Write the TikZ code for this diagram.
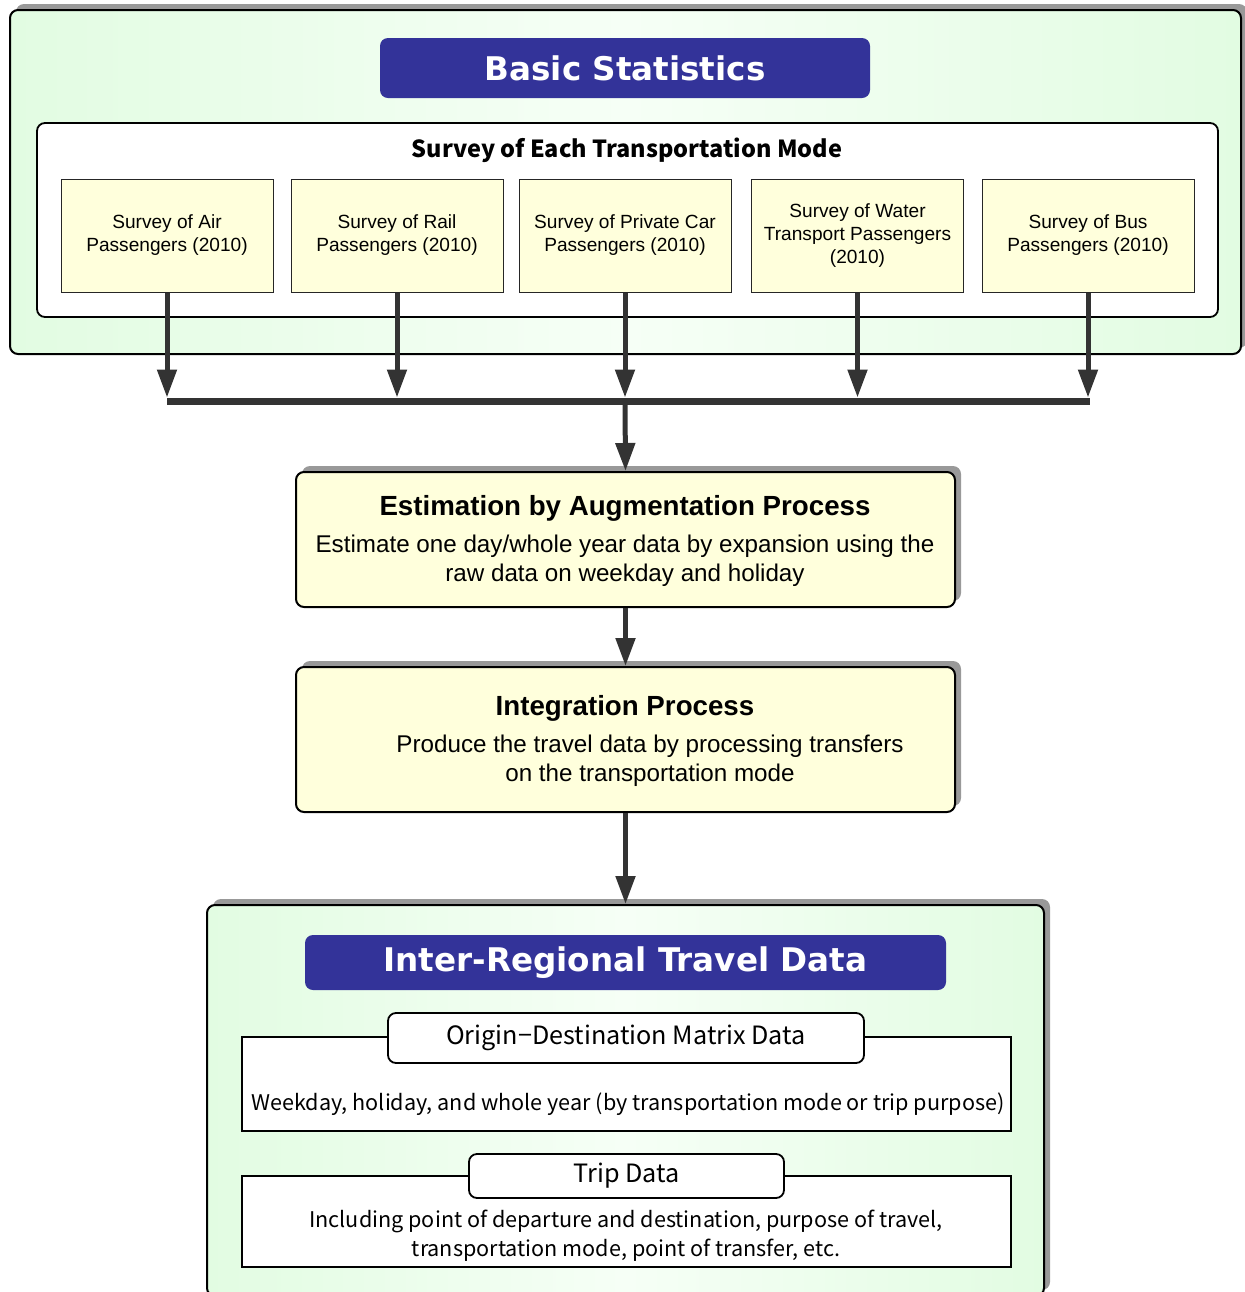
\documentclass[tikz,border=0pt]{standalone}
\usepackage{fontspec}
\setmainfont{Liberation Sans}
\newfontfamily\jpfont{Noto Sans CJK JP}
\newfontfamily\headfont{DejaVu Sans}
\usepackage{tikz}
\usetikzlibrary{arrows.meta, positioning, shadows}
\definecolor{headblue}{HTML}{333399}
\definecolor{areagreen}{HTML}{E2FCE2}
\definecolor{areawhite}{HTML}{F6FFF6}
\definecolor{boxyellow}{HTML}{FFFFDC}
\definecolor{flowgray}{HTML}{333333}
\definecolor{shadegray}{HTML}{999999}

\begin{document}
\begin{tikzpicture}[x=0.5pt, y=-0.5pt,
  area/.style={draw=black, line width=1pt, rounded corners=4pt, inner sep=0pt,
    left color=areagreen, right color=areagreen, middle color=areawhite,
    drop shadow={shadow xshift=3pt, shadow yshift=3pt, fill=shadegray, opacity=1}},
  heading/.style={fill=headblue, rounded corners=4pt, inner sep=0pt, text=white,
    font=\headfont\bfseries\fontsize{16.3}{19}\selectfont},
  survey/.style={draw=black!85, line width=0.5pt, fill=boxyellow, inner sep=0pt,
    minimum width=106pt, minimum height=56.5pt, align=center,
    font=\fontsize{9.55}{11.5}\selectfont},
  process/.style={draw=black, line width=1pt, fill=boxyellow, rounded corners=4pt,
    minimum width=329.5pt, inner sep=0pt,
    drop shadow={shadow xshift=3pt, shadow yshift=3pt, fill=shadegray, opacity=1}},
  proctitle/.style={font=\bfseries\fontsize{13.85}{16}\selectfont},
  proctext/.style={align=center, font=\fontsize{12.1}{14.5}\selectfont},
  datebox/.style={draw=black, line width=0.9pt, fill=white, inner sep=0pt,
    minimum width=384.5pt},
  datelabel/.style={draw=black, line width=0.9pt, fill=white, rounded corners=4pt,
    inner sep=0pt, font=\jpfont\fontsize{12.6}{14}\selectfont},
  datetext/.style={align=center, font=\jpfont\fontsize{10.8}{14.5}\selectfont},
  flow/.style={draw=flowgray, line width=2.5pt, -{Triangle[length=14pt, width=9.5pt]}}]

\useasboundingbox (0,0) rectangle (1244,1292);

% ---- basic statistics ----------------------------------------------------
\node[area, minimum width=615.5pt, minimum height=172pt] (stats) at (625.5,182) {};
\node[heading, minimum width=245pt, minimum height=30pt] (statstitle) at (625,68)
  {Basic Statistics};
\node[draw=black, line width=0.9pt, fill=white, rounded corners=4pt, inner sep=0pt,
  minimum width=590.5pt, minimum height=97pt] (modes) at (627.5,220) {};
\node[font=\jpfont\bfseries\fontsize{11.75}{14}\selectfont] (modestitle) at (627,150)
  {Survey of Each Transportation Mode};

\foreach \n/\x/\t in {air/167/{Survey of Air\\Passengers (2010)},
                      rail/397/{Survey of Rail\\Passengers (2010)},
                      car/625/{Survey of Private Car\\Passengers (2010)},
                      water/857.5/{Survey of Water\\Transport Passengers\\(2010)},
                      bus/1088/{Survey of Bus\\Passengers (2010)}}
  \node[survey] (\n) at (\x,235.5) {\t};

% ---- collecting bar ------------------------------------------------------
\coordinate (barL) at (167,401);
\coordinate (barR) at (1090,401);
\coordinate (barM) at (625,401);
\draw[flowgray, line width=3.5pt] (barL) -- (barR);
\foreach \n in {air,rail,car,water,bus}
  \draw[flow, shorten >=1.75pt] (\n.south) -- (\n.south |- barM);

% ---- processes -----------------------------------------------------------
\node[process, minimum height=67.5pt] (est) at (625.5,539.5) {};
\node[proctitle] (esttitle) at (625,508) {Estimation by Augmentation Process};
\node[proctext] (esttext) at (625,561)
  {Estimate one day/whole year data by expansion using the\\raw data on weekday and holiday};

\node[process, minimum height=72.5pt] (integ) at (625.5,739.5) {};
\node[proctitle] (integtitle) at (625,708) {Integration Process};
\node[proctext] (integtext) at (650,761)
  {Produce the travel data by processing transfers\\on the transportation mode};

\draw[flow] (barM) -- (est.north);
\draw[flow] (est.south) -- (integ.north);

% ---- inter-regional travel data ------------------------------------------
\node[area, minimum width=418.5pt, minimum height=195.5pt] (output) at (625.5,1100.5) {};
\draw[flow] (integ.south) -- (output.north);
\node[heading, minimum width=320.5pt, minimum height=27.5pt] (outtitle) at (625.5,962.5)
  {Inter-Regional Travel Data};

\node[datebox, minimum height=47pt] (odbox) at (626.5,1084) {};
\node[datelabel, minimum width=238pt, minimum height=25pt] (odlabel) at (626,1038)
  {Origin−Destination Matrix Data};
\node[datetext] (odtext) at (628,1104)
  {Weekday, holiday, and whole year (by transportation mode or trip purpose)};

\node[datebox, minimum height=45.5pt] (tripbox) at (626.5,1221.5) {};
\node[datelabel, minimum width=157.5pt, minimum height=22pt] (triplabel) at (626.5,1176)
  {Trip Data};
\node[datetext] (triptext) at (626,1235.5)
  {Including point of departure and destination, purpose of travel,\\transportation mode, point of transfer, etc.};
\end{tikzpicture}
\end{document}
